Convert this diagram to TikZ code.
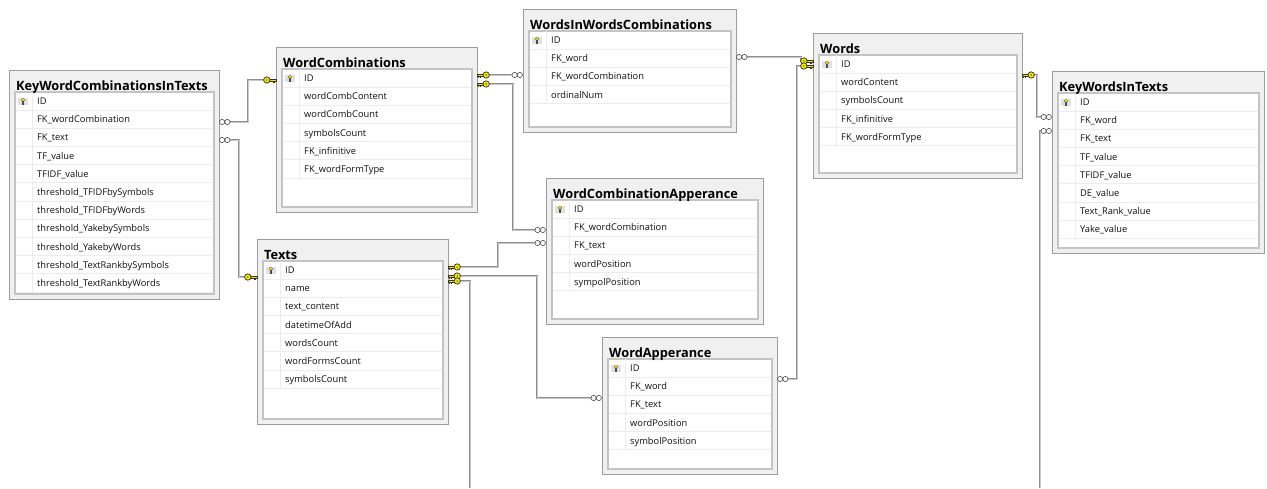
\documentclass[tikz,border=0pt]{standalone}
\usepackage{fontspec}
\setmainfont{Open Sans}
\usetikzlibrary{calc}
\definecolor{boxfill}{HTML}{F0F0F0}
\definecolor{boxline}{HTML}{9C9C9C}
\definecolor{panelline}{HTML}{C4C4C4}
\definecolor{rowline}{HTML}{ECECEC}
\definecolor{connline}{HTML}{8E8E8E}
\definecolor{conncore}{HTML}{C8C8C8}
\definecolor{keyyellow}{HTML}{F2E600}
\definecolor{txt}{HTML}{101010}
\tikzset{
 outerbox/.style={draw=boxline, fill=boxfill, line width=1pt, inner sep=0pt, outer sep=0pt, rectangle},
 panel/.style={draw=panelline, fill=white, line width=1.2pt},
 rowsep/.style={draw=rowline, line width=0.8pt},
 idcell/.style={fill=black!12},
 titletext/.style={font=\fontsize{12.8}{15}\selectfont\bfseries, inner sep=0pt, text=black},
 rowtext/.style={font=\fontsize{9.3}{11}\selectfont, inner sep=0pt, text=txt},
 conn/.style={draw=connline, line width=0.8pt, double=conncore, double distance=1pt},
 onekey/.pic={
   \filldraw[fill=keyyellow, draw=black!80, line width=0.45pt] (0,-1.1) rectangle (6.3,1.1);
   \draw[black!80, line width=0.6pt] (1.3,1.1) -- (1.3,2.7) (3.1,1.1) -- (3.1,2.5);
   \filldraw[fill=keyyellow, draw=black!80, line width=0.7pt] (9.2,0) circle[radius=3.2pt];
   \fill[black!60] (9.2,0) circle[radius=0.8pt];
 },
 many/.pic={
   \filldraw[fill=white, draw=black!70, line width=0.6pt] (3.1,0) circle[radius=2.6pt] (8.4,0) circle[radius=2.6pt];
 }
}
\newcommand{\erdtable}[7]{%
 \node[outerbox, anchor=north west, minimum width={#4-#2}, minimum height={#5-#3}] (#1) at (#2,#3) {};
 \draw[panel] ({#2+6},{#3+22}) rectangle ({#4-5},{#5-5});
 \node[titletext, anchor=base west] (#1-title) at ({#2+7},{#3+20}) {#6};
 \foreach \rowname [count=\i] in {#7} {
   \pgfmathsetmacro{\cy}{#3+31+18.2*(\i-1)}
   \draw[rowsep] ({#2+7},{\cy+9}) -- ({#4-6},{\cy+9});
   \draw[rowsep] ({#2+23},{\cy-9}) -- ({#2+23},{\cy+9});
   \node[rowtext, anchor=base west] (#1-r\i) at ({#2+28},{\cy+3.4}) {\rowname};
 }
 \fill[idcell] ({#2+9},{#3+27.5}) rectangle ({#2+19},{#3+34.5});
 \filldraw[fill=keyyellow, draw=black!70, line width=0.3pt] ({#2+14},{#3+29.8}) circle[radius=1.8pt];
 \filldraw[fill=keyyellow, draw=black!70, line width=0.3pt] ({#2+13.4},{#3+31.4}) rectangle ({#2+14.6},{#3+34});
}
\begin{document}
\begin{tikzpicture}[x=1pt,y=-1pt]
\fill[white] (0,0) rectangle (1267,488);
\useasboundingbox (0,0) rectangle (1267,488);

\erdtable{kwcit}{9}{70}{219}{299}{KeyWordCombinationsInTexts}{ID,FK\_wordCombination,FK\_text,TF\_value,TFIDF\_value,threshold\_TFIDFbySymbols,threshold\_TFIDFbyWords,threshold\_YakebySymbols,threshold\_YakebyWords,threshold\_TextRankbySymbols,threshold\_TextRankbyWords}
\erdtable{wc}{276}{47}{477}{212}{WordCombinations}{ID,wordCombContent,wordCombCount,symbolsCount,FK\_infinitive,FK\_wordFormType}
\erdtable{wiwc}{523}{9}{736}{132}{WordsInWordsCombinations}{ID,FK\_word,FK\_wordCombination,ordinalNum}
\erdtable{words}{813}{33}{1022}{178}{Words}{ID,wordContent,symbolsCount,FK\_infinitive,FK\_wordFormType}
\erdtable{kwit}{1052}{71}{1264}{253}{KeyWordsInTexts}{ID,FK\_word,FK\_text,TF\_value,TFIDF\_value,DE\_value,Text\_Rank\_value,Yake\_value}
\erdtable{wca}{546}{178}{763}{324}{WordCombinationApperance}{ID,FK\_wordCombination,FK\_text,wordPosition,sympolPosition}
\erdtable{texts}{257}{239}{448}{424}{Texts}{ID,name,text\_content,datetimeOfAdd,wordsCount,wordFormsCount,symbolsCount}
\erdtable{wa}{602}{337}{777}{474}{WordApperance}{ID,FK\_word,FK\_text,wordPosition,symbolPosition}

\coordinate (c1a) at ($(kwcit.north east)+(0,52)$);
\coordinate (c1b) at ($(wc.north west)+(0,33)$);
\coordinate (c2a) at ($(kwcit.north east)+(0,70)$);
\coordinate (c2b) at ($(texts.north west)+(0,38)$);
\coordinate (c3a) at ($(wc.north east)+(0,28)$);
\coordinate (c3b) at ($(wiwc.north west)+(0,66)$);
\coordinate (c4a) at ($(wc.north east)+(0,37)$);
\coordinate (c4b) at ($(wca.north west)+(0,52)$);
\coordinate (c5a) at ($(texts.north east)+(0,28)$);
\coordinate (c5b) at ($(wca.north west)+(0,65)$);
\coordinate (c6a) at ($(texts.north east)+(0,37)$);
\coordinate (c6b) at ($(wa.north west)+(0,61)$);
\coordinate (c7a) at ($(texts.north east)+(0,42)$);
\coordinate (c7b) at (470,488);
\coordinate (c8a) at ($(wiwc.north east)+(0,48)$);
\coordinate (c8b) at ($(words.north west)+(0,28)$);
\coordinate (c9a) at ($(words.north west)+(0,33)$);
\coordinate (c9b) at ($(wa.north east)+(0,42)$);
\coordinate (c10a) at ($(words.north east)+(0,42)$);
\coordinate (c10b) at ($(kwit.north west)+(0,46)$);
\coordinate (c11a) at ($(kwit.north west)+(0,60)$);
\coordinate (c11b) at (1040,488);

\draw[conn] ($(c1a)+(11,0)$) -| ($(c1b)+(-28,0)$) -- ($(c1b)+(-9.2,0)$);
\draw[conn] ($(c2a)+(11,0)$) -| ($(c2b)+(-18,0)$) -- ($(c2b)+(-9.2,0)$);
\draw[conn] ($(c3a)+(9.2,0)$) -- ($(c3b)+(-11,0)$);
\draw[conn] ($(c4a)+(9.2,0)$) -| ($(c4b)+(-33,0)$) -- ($(c4b)+(-11,0)$);
\draw[conn] ($(c5a)+(9.2,0)$) -| ($(c5b)+(-48,0)$) -- ($(c5b)+(-11,0)$);
\draw[conn] ($(c6a)+(9.2,0)$) -| ($(c6b)+(-65,0)$) -- ($(c6b)+(-11,0)$);
\draw[conn] ($(c7a)+(9.2,0)$) -| (c7b);
\draw[conn] ($(c8a)+(11,0)$) -| ($(c8b)+(-12,0)$) -- ($(c8b)+(-9.2,0)$);
\draw[conn] ($(c9a)+(-9.2,0)$) -| ($(c9b)+(20,0)$) -- ($(c9b)+(11,0)$);
\draw[conn] ($(c10a)+(9.2,0)$) -| ($(c10b)+(-15,0)$) -- ($(c10b)+(-11,0)$);
\draw[conn] ($(c11a)+(-11,0)$) -| (c11b);

\pic at (c1a) {many}; \pic[xscale=-1] at (c1b) {onekey};
\pic at (c2a) {many}; \pic[xscale=-1] at (c2b) {onekey};
\pic at (c3a) {onekey}; \pic[xscale=-1] at (c3b) {many};
\pic at (c4a) {onekey}; \pic[xscale=-1] at (c4b) {many};
\pic at (c5a) {onekey}; \pic[xscale=-1] at (c5b) {many};
\pic at (c6a) {onekey}; \pic[xscale=-1] at (c6b) {many};
\pic at (c7a) {onekey};
\pic at (c8a) {many}; \pic[xscale=-1] at (c8b) {onekey};
\pic[xscale=-1] at (c9a) {onekey}; \pic at (c9b) {many};
\pic at (c10a) {onekey}; \pic[xscale=-1] at (c10b) {many};
\pic[xscale=-1] at (c11a) {many};
\end{tikzpicture}
\end{document}
